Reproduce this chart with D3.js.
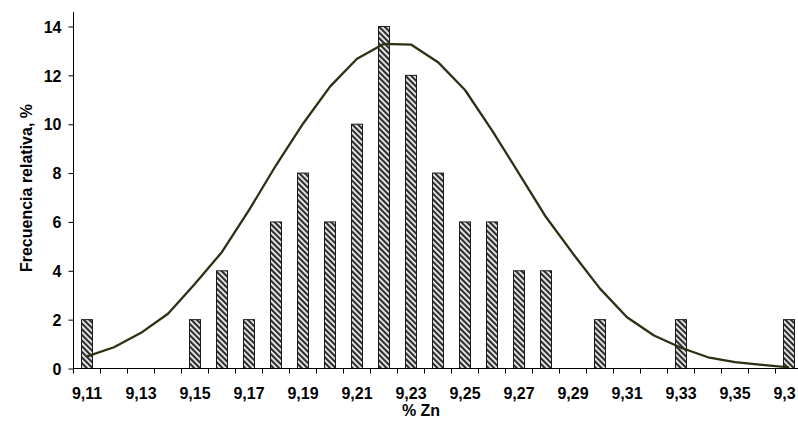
<!DOCTYPE html>
<html>
<head>
<meta charset="utf-8">
<script src="https://cdn.jsdelivr.net/npm/d3@7"></script>
<style>
  html, body { margin: 0; padding: 0; background: #fff; }
  svg { display: block; }
  text { font-family: "Liberation Sans", Arial, sans-serif; font-weight: bold; fill: #000; }
</style>
</head>
<body>
<script>
// ---- data ----
const categories = ["9,11","9,12","9,13","9,14","9,15","9,16","9,17","9,18","9,19","9,20",
                    "9,21","9,22","9,23","9,24","9,25","9,26","9,27","9,28","9,29","9,30",
                    "9,31","9,32","9,33","9,34","9,35","9,36","9,37"];
const frequency = [2,0,0,0,2,4,2,6,8,6,10,14,12,8,6,6,4,4,0,2,0,0,2,0,0,0,2];
const normalCurve = [0.5,0.87,1.46,2.24,3.47,4.77,6.48,8.32,10.02,11.54,12.68,13.29,13.26,12.54,
                     11.4,9.75,7.98,6.2,4.7,3.27,2.1,1.35,0.85,0.46,0.26,0.15,0.05];
const yTicks = [0,2,4,6,8,10,12,14];
const xTitle = "% Zn";
const yTitle = "Frecuencia relativa, %";

// ---- layout ----
const W = 798, H = 428;
const plotLeft = 73.5, plotBottom = 368.5, plotTop = 26.5;
const step = 27;
const fs = 16;

const svg = d3.select("body").append("svg").attr("width", W).attr("height", H);

const defs = svg.append("defs");
const pat = defs.append("pattern")
  .attr("id", "hatch").attr("patternUnits", "userSpaceOnUse")
  .attr("width", 4).attr("height", 4)
  .attr("patternTransform", "rotate(-45)");
pat.append("rect").attr("width", 4).attr("height", 4).attr("fill", "#fff");
pat.append("rect").attr("width", 2.3).attr("height", 4).attr("fill", "#2e2e2e");

defs.append("clipPath").attr("id", "clipR")
  .append("rect").attr("x", 0).attr("y", 0).attr("width", 796).attr("height", H);

const x = d3.scaleBand().domain(categories).range([plotLeft, plotLeft + step * categories.length]).padding(0);
const y = d3.scaleLinear().domain([0, 14]).range([plotBottom, plotTop]);
const barW = 11;

// bars
svg.append("g").selectAll("rect").data(categories.map((c, i) => ({c, v: frequency[i]})).filter(d => d.v > 0))
  .join("rect")
  .attr("x", d => x(d.c) + x.bandwidth() / 2 - barW / 2)
  .attr("y", d => y(d.v))
  .attr("width", barW)
  .attr("height", d => y(0) - y(d.v))
  .attr("fill", "url(#hatch)")
  .attr("stroke", "#1a1a1a")
  .attr("stroke-width", 1);

// curve
const line = d3.line()
  .x((d, i) => x(categories[i]) + x.bandwidth() / 2)
  .y(d => y(d));
svg.append("path").datum(normalCurve)
  .attr("d", line)
  .attr("fill", "none")
  .attr("stroke", "#2f2f14")
  .attr("stroke-width", 2.3)
  .attr("stroke-linejoin", "round");

// y axis
const yAxis = svg.append("g").attr("transform", `translate(${plotLeft},0)`)
  .call(d3.axisLeft(y).tickValues(yTicks).tickSize(5).tickPadding(7).tickFormat(d3.format("d")));
yAxis.select(".domain").remove();
yAxis.selectAll(".tick line").attr("stroke", "#000");
yAxis.selectAll(".tick text").attr("font-size", fs).attr("font-family", "Liberation Sans, Arial, sans-serif")
  .attr("font-weight", "bold").attr("dy", "0.36em");
svg.append("line").attr("x1", plotLeft).attr("x2", plotLeft).attr("y1", 12).attr("y2", plotBottom)
  .attr("stroke", "#000").attr("stroke-width", 1);

// x axis
const xAxis = svg.append("g").attr("transform", `translate(0,${plotBottom})`).attr("clip-path", "url(#clipR)")
  .call(d3.axisBottom(x).tickSize(0).tickPadding(19)
    .tickFormat((d, i) => i % 2 === 0 ? d : ""));
xAxis.select(".domain").remove();
xAxis.selectAll(".tick text").attr("font-size", fs).attr("font-family", "Liberation Sans, Arial, sans-serif")
  .attr("font-weight", "bold");
const bounds = categories.map(c => x(c)).concat([x(categories[categories.length - 1]) + x.bandwidth()]);
svg.append("g").selectAll("line").data(bounds).join("line")
  .attr("x1", d => d).attr("x2", d => d).attr("y1", plotBottom).attr("y2", plotBottom + 5)
  .attr("stroke", "#000");
svg.append("line").attr("x1", plotLeft).attr("x2", W).attr("y1", plotBottom).attr("y2", plotBottom)
  .attr("stroke", "#000").attr("stroke-width", 1);

// titles
svg.append("text").attr("x", 421).attr("y", 416).attr("text-anchor", "middle")
  .attr("font-size", fs).text(xTitle);
svg.append("text").attr("transform", "translate(32,188) rotate(-90)").attr("text-anchor", "middle")
  .attr("font-size", fs).text(yTitle);
</script>
</body>
</html>
